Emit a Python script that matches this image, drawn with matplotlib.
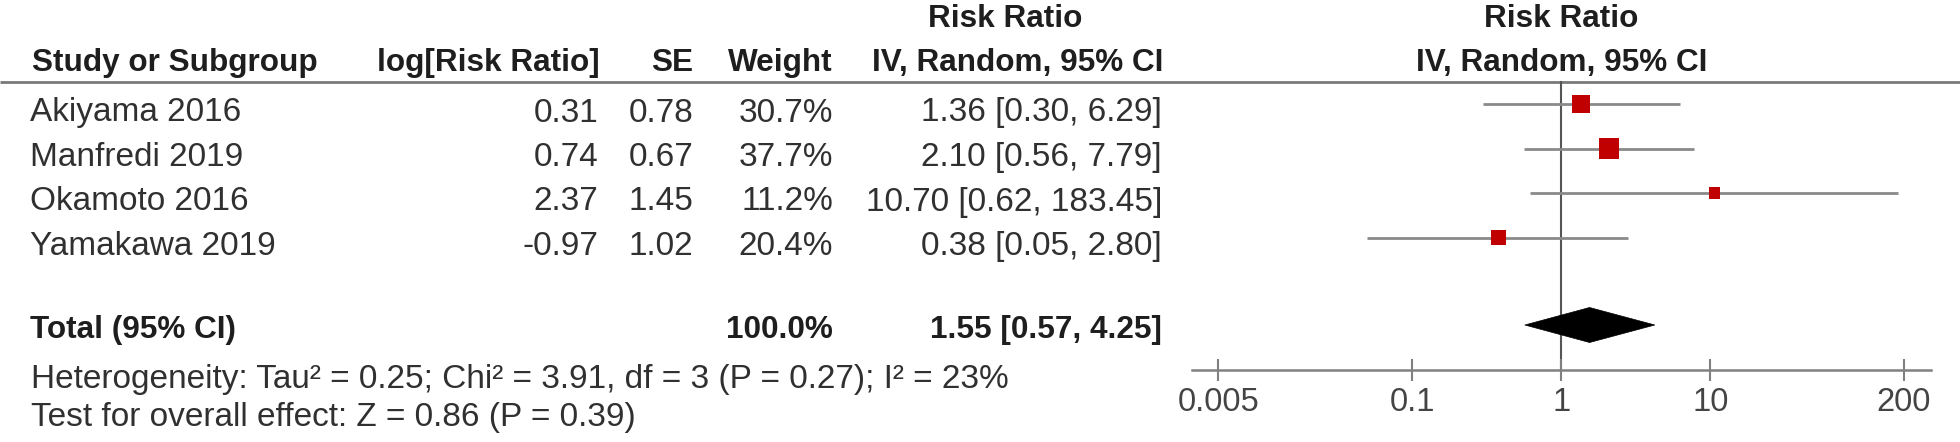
import numpy as np
import matplotlib.pyplot as plt
from matplotlib.patches import Polygon
from matplotlib.ticker import NullLocator

# study data
studies = ['Akiyama 2016', 'Manfredi 2019', 'Okamoto 2016', 'Yamakawa 2019']
log_rr = [0.31, 0.74, 2.37, -0.97]
se = [0.78, 0.67, 1.45, 1.02]
weights = [30.7, 37.7, 11.2, 20.4]
rr = [1.36, 2.10, 10.70, 0.38]
ci_low = [0.30, 0.56, 0.62, 0.05]
ci_high = [6.29, 7.79, 183.45, 2.80]

total_rr = 1.55
total_low = 0.57
total_high = 4.25
heterogeneity = 'Heterogeneity: Tau² = 0.25; Chi² = 3.91, df = 3 (P = 0.27); I² = 23%'
overall = 'Test for overall effect: Z = 0.86 (P = 0.39)'

ticks = [0.005, 0.1, 1, 10, 200]
tick_labels = ['0.005', '0.1', '1', '10', '200']

plt.rcParams['font.family'] = ['Liberation Sans', 'DejaVu Sans']

W, H = 1960, 442
fs_b = 22.7   # bold headers
fs = 24       # normal text
txt = '#303030'
bold = '#1e1e1e'

fig = plt.figure(figsize=(W / 100, H / 100), dpi=100)
fig.patch.set_facecolor('white')

# table axes in pixel units
tab = fig.add_axes([0, 0, 1, 1])
tab.set_xlim(0, W)
tab.set_ylim(H, 0)
tab.axis('off')

# forest axes
x0, x1 = 1191.7, 1930.7
fax = fig.add_axes([x0 / W, 0, (x1 - x0) / W, 1])
fax.patch.set_alpha(0)
fax.set_xscale('log')
fax.set_xlim(10 ** -2.48, 10 ** 2.48)
fax.set_ylim(H, 0)

row0, step = 104, 44.5
rows = [row0 + i * step for i in range(len(studies))]
total_y = 325
head_line = 82
axis_y = 370

# header
tab.plot([0, W], [head_line, head_line], color='#7a7a7a', lw=2.0, solid_capstyle='butt')
tab.text(32, 71, 'Study or Subgroup', fontsize=fs_b, fontweight='bold', color=bold)
tab.text(600, 71, 'log[Risk Ratio]', fontsize=fs_b, fontweight='bold', color=bold, ha='right')
tab.text(693, 71, 'SE', fontsize=fs_b, fontweight='bold', color=bold, ha='right')
tab.text(833, 71, 'Weight', fontsize=fs_b, fontweight='bold', color=bold, ha='right')
tab.text(1163, 71, 'IV, Random, 95% CI', fontsize=fs_b, fontweight='bold', color=bold, ha='right')
tab.text(1005, 27, 'Risk Ratio', fontsize=fs_b, fontweight='bold', color=bold, ha='center')
fax.text(1, 27, 'Risk Ratio', fontsize=fs_b, fontweight='bold', color=bold, ha='center')
fax.text(1, 71, 'IV, Random, 95% CI', fontsize=fs_b, fontweight='bold', color=bold, ha='center')

# study rows
for i, y in enumerate(rows):
    b = y + 17.5
    tab.text(30, b, studies[i], fontsize=fs, color=txt)
    tab.text(598, b, f'{log_rr[i]:.2f}', fontsize=fs, color=txt, ha='right')
    tab.text(693, b, f'{se[i]:.2f}', fontsize=fs, color=txt, ha='right')
    tab.text(833, b, f'{weights[i]:.1f}%', fontsize=fs, color=txt, ha='right')
    tab.text(1162, b, f'{rr[i]:.2f} [{ci_low[i]:.2f}, {ci_high[i]:.2f}]',
             fontsize=fs, color=txt, ha='right')

# total row
tb = 338
tab.text(30, tb, 'Total (95% CI)', fontsize=fs_b, fontweight='bold', color=bold)
tab.text(833, tb, f'{sum(weights):.1f}%', fontsize=fs_b, fontweight='bold', color=bold, ha='right')
tab.text(1162, tb, f'{total_rr:.2f} [{total_low:.2f}, {total_high:.2f}]',
         fontsize=fs_b, fontweight='bold', color=bold, ha='right')
tab.text(31, 388, heterogeneity, fontsize=fs, color=txt)
tab.text(31, 426, overall, fontsize=fs, color=txt)

# forest marks
fax.plot([1, 1], [head_line, axis_y], color='#555555', lw=1.5, zorder=1)
fax.hlines(rows, ci_low, ci_high, color='#8a8a8a', lw=2.0, zorder=2)
side_px = 3.35 * np.sqrt(weights)
fax.scatter(rr, rows, marker='s', s=(side_px * 0.72) ** 2, color='#c00000',
            linewidths=0, zorder=3)
hh = 17.5
fax.add_patch(Polygon([(total_low, total_y), (total_rr, total_y - hh),
                       (total_high, total_y), (total_rr, total_y + hh)],
                      closed=True, facecolor='black', edgecolor='black', lw=0.5, zorder=3))

# axis
for s in ['left', 'right', 'top']:
    fax.spines[s].set_visible(False)
fax.spines['bottom'].set_position(('data', axis_y))
fax.spines['bottom'].set_color('#808080')
fax.spines['bottom'].set_linewidth(1.8)
fax.set_xticks(ticks)
fax.set_xticklabels(tick_labels)
fax.xaxis.set_minor_locator(NullLocator())
fax.set_yticks([])
fax.tick_params(axis='x', direction='inout', length=22 * 0.72, width=1.5,
                color='#808080', labelsize=23.6, labelcolor='#444444', pad=4)

fig.savefig('out.png', dpi=100, facecolor='white')
